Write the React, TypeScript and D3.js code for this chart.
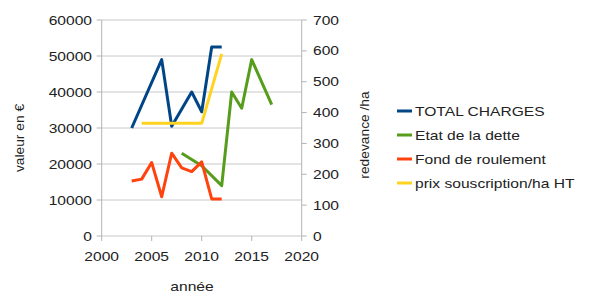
import React from 'react';
import * as d3 from 'd3';

const xTicks = [2000, 2005, 2010, 2015, 2020];
const leftTicks = [0, 10000, 20000, 30000, 40000, 50000, 60000];
const rightTicks = [0, 100, 200, 300, 400, 500, 600, 700];

const totalYears = [2003, 2006, 2007, 2009, 2010, 2011, 2012];
const totalCharges = [30000, 49000, 30500, 40000, 34500, 52500, 52500];
const detteYears = [2008, 2010, 2012, 2013, 2014, 2015, 2017];
const detteValues = [23000, 19500, 14000, 40000, 35500, 49000, 36500];
const fondYears = [2003, 2004, 2005, 2006, 2007, 2008, 2009, 2010, 2011, 2012];
const fondValues = [15300, 15800, 20400, 10900, 23000, 18900, 17900, 20600, 10300, 10300];
const prixYears = [2004, 2010, 2012];
const prixValues = [365, 365, 590];

const seriesNames = ['TOTAL CHARGES', 'Etat de la dette', 'Fond de roulement', 'prix souscription/ha HT'];
const colors = ['#004586', '#579d1c', '#ff420e', '#ffd320'];

const W = 589, H = 297;
const FONT = "'Liberation Sans', Arial, sans-serif";

function T(props: { x: number; y: number; anchor?: string; rot?: number; sx?: number; size?: number; children: React.ReactNode }) {
  const { x, y, anchor = 'start', rot = 0, sx = 1.3, size = 12 } = props;
  return (
    <g transform={`translate(${x},${y}) rotate(${rot}) scale(${sx},1)`}>
      <text textAnchor={anchor} fontSize={size} fontFamily={FONT} fill="#222">{props.children}</text>
    </g>
  );
}

export default function App() {
  const x = d3.scaleLinear().domain([2000, 2020]).range([101.7, 301.7]);
  const yL = d3.scaleLinear().domain([0, 60000]).range([236, 20]);
  const yR = d3.scaleLinear().domain([0, 700]).range([236, 20]);

  const lineL = d3.line<[number, number]>().x(d => x(d[0])).y(d => yL(d[1]));
  const lineR = d3.line<[number, number]>().x(d => x(d[0])).y(d => yR(d[1]));
  const zip = (a: number[], b: number[]) => a.map((v, i) => [v, b[i]] as [number, number]);

  const paths = [
    lineL(zip(totalYears, totalCharges)),
    lineL(zip(detteYears, detteValues)),
    lineL(zip(fondYears, fondValues)),
    lineR(zip(prixYears, prixValues)),
  ];
  const drawOrder = [1, 2, 0, 3];

  const x0 = x(2000), x1 = x(2020);

  return (
    <svg width={W} height={H} style={{ position: 'absolute', left: 0, top: 0, background: '#fff' }}>
      {leftTicks.map(t => (
        <line key={'g' + t} x1={x0} x2={x1} y1={yL(t)} y2={yL(t)} stroke="#c8c8c8" strokeWidth={1} />
      ))}
      <line x1={x0} x2={x0} y1={yL(60000)} y2={yL(0)} stroke="#b3b3b3" />
      <line x1={x1} x2={x1} y1={yR(700)} y2={yR(0)} stroke="#b3b3b3" />
      {leftTicks.map(t => (
        <line key={'lt' + t} x1={x0 - 5} x2={x0} y1={yL(t)} y2={yL(t)} stroke="#b3b3b3" />
      ))}
      {rightTicks.map(t => (
        <line key={'rt' + t} x1={x1} x2={x1 + 5} y1={yR(t)} y2={yR(t)} stroke="#b3b3b3" />
      ))}
      {xTicks.map(t => (
        <line key={'xt' + t} x1={x(t)} x2={x(t)} y1={yL(0)} y2={yL(0) + 5} stroke="#b3b3b3" />
      ))}

      {drawOrder.map(i => (
        <path key={'s' + i} d={paths[i] || ''} fill="none" stroke={colors[i]} strokeWidth={3} strokeLinejoin="round" />
      ))}

      {leftTicks.map(t => (
        <T key={'ll' + t} x={92} y={yL(t) + 4.5} anchor="end">{String(t)}</T>
      ))}
      {rightTicks.map(t => (
        <T key={'rl' + t} x={313} y={yR(t) + 4.5}>{String(t)}</T>
      ))}
      {xTicks.map(t => (
        <T key={'xl' + t} x={x(t)} y={261} anchor="middle">{String(t)}</T>
      ))}

      <T x={192} y={291} anchor="middle">année</T>
      <T x={24} y={138} anchor="middle" rot={-90} sx={1.15}>valeur en €</T>
      <T x={369} y={135} anchor="middle" rot={-90} sx={1.15}>redevance /ha</T>

      {seriesNames.map((name, i) => (
        <g key={'lg' + i}>
          <line x1={397} x2={412} y1={111 + i * 24} y2={111 + i * 24} stroke={colors[i]} strokeWidth={3} />
          <T x={415} y={115.5 + i * 24}>{name}</T>
        </g>
      ))}
    </svg>
  );
}
